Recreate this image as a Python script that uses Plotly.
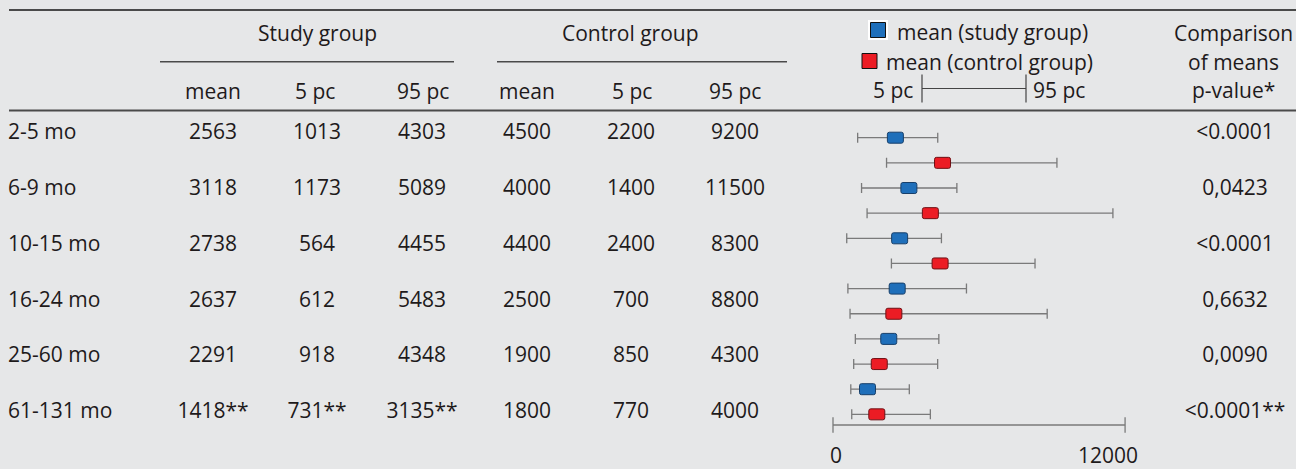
import plotly.graph_objects as go

# ---------------- data ----------------
age_groups = ["2-5 mo", "6-9 mo", "10-15 mo", "16-24 mo", "25-60 mo", "61-131 mo"]
study_mean = [2563, 3118, 2738, 2637, 2291, 1418]
study_p5 = [1013, 1173, 564, 612, 918, 731]
study_p95 = [4303, 5089, 4455, 5483, 4348, 3135]
study_note = ["", "", "", "", "", "**"]
control_mean = [4500, 4000, 4400, 2500, 1900, 1800]
control_p5 = [2200, 1400, 2400, 700, 850, 770]
control_p95 = [9200, 11500, 8300, 8800, 4300, 4000]
p_values = ["<0.0001", "0,0423", "<0.0001", "0,6632", "0,0090", "<0.0001**"]
axis_ticks = [0, 12000]

# ---------------- layout constants ----------------
W, H = 1296, 469
FONT = "Open Sans"
FS = 21
TXT = "#1e1a1b"
BG = "#e6e7e8"
RULE = "#4a4a4a"
WHISK = "#7a7a7a"
BLUE, BLUE_EDGE = "#1f6fba", "#173f6a"
RED, RED_EDGE = "#ec1c24", "#6e1014"

ROW_Y0, ROW_DY = 134, 55.8          # table rows (pixel space)
FX0, FSCALE = 833, 0.02434          # forest x: pixel of value 0, px per unit
FY0, FDY = 137.7, 25.15             # forest y: pixel of first slot, px per slot

n = len(age_groups)
row_y = [ROW_Y0 + ROW_DY * i for i in range(n)]

fig = go.Figure()

# ---------------- table cells ----------------
def col(x, texts, pos="middle center"):
    fig.add_trace(go.Scatter(
        x=[x] * len(texts), y=row_y, text=texts, mode="text",
        textposition=pos, textfont=dict(family=FONT, size=FS, color=TXT),
        hoverinfo="skip", showlegend=False, xaxis="x", yaxis="y"))

col(8, age_groups, "middle right")
col(213, [f"{v}{s}" for v, s in zip(study_mean, study_note)])
col(317, [f"{v}{s}" for v, s in zip(study_p5, study_note)])
col(422, [f"{v}{s}" for v, s in zip(study_p95, study_note)])
col(527, [str(v) for v in control_mean])
col(631, [str(v) for v in control_p5])
col(735, [str(v) for v in control_p95])
col(1235, p_values)

# ---------------- legend symbols (header) ----------------
fig.add_trace(go.Scatter(x=[878], y=[30], mode="markers",
                         marker=dict(symbol="square", size=20, color="white"),
                         hoverinfo="skip", showlegend=False, xaxis="x", yaxis="y"))
fig.add_trace(go.Scatter(x=[878, 869.5], y=[30, 61], mode="markers",
                         marker=dict(symbol="square", size=15, color=[BLUE, RED],
                                     line=dict(color="#111111", width=1)),
                         hoverinfo="skip", showlegend=False, xaxis="x", yaxis="y"))
fig.add_trace(go.Scatter(x=[922, 1026], y=[88.5, 88.5], mode="lines+markers",
                         line=dict(color="#444444", width=1),
                         marker=dict(symbol="line-ns-open", size=20,
                                     line=dict(color="#444444", width=1.2)),
                         hoverinfo="skip", showlegend=False, xaxis="x", yaxis="y"))

# ---------------- forest plot ----------------
study_k = [2 * i for i in range(n)]
control_k = [2 * i + 1 for i in range(n)]
HW = 8 / FSCALE
BH = 11 / FDY

for means, p5, p95, ks in [(study_mean, study_p5, study_p95, study_k),
                           (control_mean, control_p5, control_p95, control_k)]:
    fig.add_trace(go.Scatter(
        x=means, y=ks, mode="markers",
        marker=dict(size=1, color="rgba(0,0,0,0)"),
        error_x=dict(type="data", symmetric=False,
                     array=[b - m for m, b in zip(means, p95)],
                     arrayminus=[m - a for m, a in zip(means, p5)],
                     color=WHISK, thickness=1.3, width=5),
        hoverinfo="skip", showlegend=False, xaxis="x2", yaxis="y2"))

# axis baseline 0 .. 12000
base_k = (425 - FY0) / FDY
fig.add_trace(go.Scatter(
    x=axis_ticks, y=[base_k] * len(axis_ticks), mode="lines+markers",
    line=dict(color=WHISK, width=1.3),
    marker=dict(symbol="line-ns-open", size=11, line=dict(color=WHISK, width=1.3)),
    hoverinfo="skip", showlegend=False, xaxis="x2", yaxis="y2"))

for means, ks, c, e in [(study_mean, study_k, BLUE, BLUE_EDGE),
                        (control_mean, control_k, RED, RED_EDGE)]:
    fig.add_trace(go.Bar(
        orientation="h", y=ks, base=[m - HW for m in means], x=[2 * HW] * n,
        width=BH, marker=dict(color=c, line=dict(color=e, width=1)),
        hoverinfo="skip", showlegend=False, xaxis="x3", yaxis="y3"))

# ---------------- annotations ----------------
ann = []
def a(text, x, y, anchor="center", xref="x", yref="y", size=FS, xshift=0):
    ann.append(dict(text=text, x=x, y=y, xref=xref, yref=yref, xanchor=anchor,
                    yanchor="middle", showarrow=False, xshift=xshift,
                    font=dict(family=FONT, size=size, color=TXT)))

a("Study group", 317, 33)
a("Control group", 630, 33)
for cx, t in [(213, "mean"), (315, "5 pc"), (423, "95 pc"),
              (527, "mean"), (632, "5 pc"), (735, "95 pc")]:
    a(t, cx, 91)
a("mean (study group)", 895, 32, "left")
a("mean (control group)", 884, 62, "left")
a("5 pc", 915, 90, "right")
a("95 pc", 1031, 90, "left")
a("Comparison", 1233, 33)
a("of means", 1233, 62)
a("p-value*", 1233, 90)
a(str(axis_ticks[0]), axis_ticks[0], 455, "center", xref="x2", xshift=3)
a(str(axis_ticks[1]), axis_ticks[1], 455, "right", xref="x2", xshift=15)

shapes = []
def hline(x0, x1, y, w=2, c=RULE):
    shapes.append(dict(type="line", xref="x", yref="y", x0=x0, x1=x1, y0=y, y1=y,
                       line=dict(color=c, width=w)))
hline(9, W, 10)
hline(9, W, 110.5)
hline(160, 454, 61.7, 1.5)
hline(497, 787, 61.7, 1.5)

hidden = dict(visible=False, showgrid=False, zeroline=False, fixedrange=True)
x2_range = [(0 - FX0) / FSCALE, (W - FX0) / FSCALE]
y2_range = [(H - FY0) / FDY, (0 - FY0) / FDY]

fig.update_layout(
    width=W, height=H, margin=dict(l=0, r=0, t=0, b=0, pad=0),
    paper_bgcolor=BG, plot_bgcolor=BG, barmode="overlay", barcornerradius=2,
    showlegend=False, annotations=ann, shapes=shapes,
    xaxis=dict(range=[0, W], domain=[0, 1], **hidden),
    yaxis=dict(range=[H, 0], domain=[0, 1], **hidden),
    xaxis2=dict(range=x2_range, overlaying="x", **hidden),
    yaxis2=dict(range=y2_range, overlaying="y", **hidden),
    xaxis3=dict(range=x2_range, overlaying="x", **hidden),
    yaxis3=dict(range=y2_range, overlaying="y", **hidden),
)

fig.write_html("out.html", post_script="document.body.style.margin='0';",
               config={"displayModeBar": False})
